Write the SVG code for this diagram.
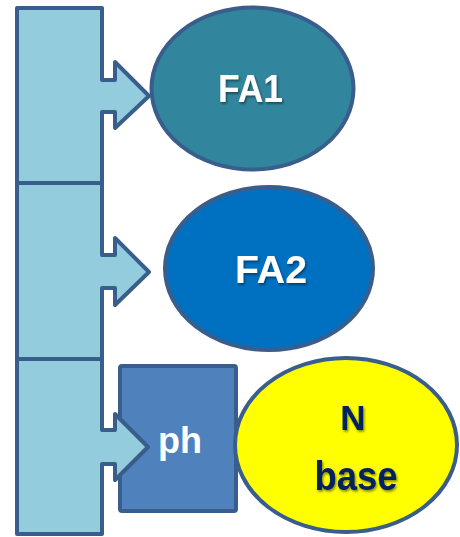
<svg xmlns="http://www.w3.org/2000/svg" width="460" height="537" viewBox="0 0 460 537">
  <style>
    .edge { stroke: #3A5E8C; stroke-width: 4; stroke-linejoin: round; }
    .bar { fill: #93CDDD; }
    .lbl { font-family: "Liberation Sans", Arial, sans-serif; font-weight: bold; text-anchor: middle; }
    .light { fill: #FFFFFF; }
    .dark { fill: #002060; }
  </style>
  <defs>
    <filter id="shadow" x="-20%" y="-20%" width="140%" height="140%">
      <feDropShadow dx="1.2" dy="1.8" stdDeviation="1" flood-color="#000000" flood-opacity="0.45"/>
    </filter>
  </defs>

  <!-- phosphate box sits under the third bar segment's arrow -->
  <g id="ph">
    <rect class="edge" x="120" y="366" width="116" height="145" rx="2" fill="#4F81BD"/>
    <text class="lbl light" x="180" y="453" font-size="36">ph</text>
  </g>

  <!-- glycerol backbone: three stacked segments, each with a right arrow -->
  <g id="connectors">
    <path id="seg1" class="edge bar" d="M17,8 H102 V80 H115 V62 L149,96 L115,128 V112 H102 V183 H17 Z"/>
    <path id="seg2" class="edge bar" d="M17,183 H102 V255 H115 V238 L149,272 L115,305 V288 H102 V359 H17 Z"/>
    <path id="seg3" class="edge bar" d="M17,359 H102 V430 H115 V414 L148,447 L115,480 V464 H102 V534 H17 Z"/>
  </g>

  <g id="fa1">
    <ellipse class="edge" cx="252.5" cy="88.5" rx="101" ry="81" fill="#31859C"/>
    <text class="lbl light" x="250.5" y="102" font-size="39" textLength="65" lengthAdjust="spacingAndGlyphs" filter="url(#shadow)">FA1</text>
  </g>

  <g id="fa2">
    <ellipse class="edge" cx="269" cy="268.5" rx="104" ry="81.5" fill="#0070C0"/>
    <text class="lbl light" x="271" y="283" font-size="39" textLength="72" lengthAdjust="spacingAndGlyphs" filter="url(#shadow)">FA2</text>
  </g>

  <g id="nbase">
    <ellipse class="edge" cx="346" cy="445" rx="111" ry="87" fill="#FFFF00"/>
    <text class="lbl dark" x="353" y="430" font-size="35" filter="url(#shadow)">N</text>
    <text class="lbl dark" x="356" y="490" font-size="40" textLength="83" lengthAdjust="spacingAndGlyphs" filter="url(#shadow)">base</text>
  </g>
</svg>
